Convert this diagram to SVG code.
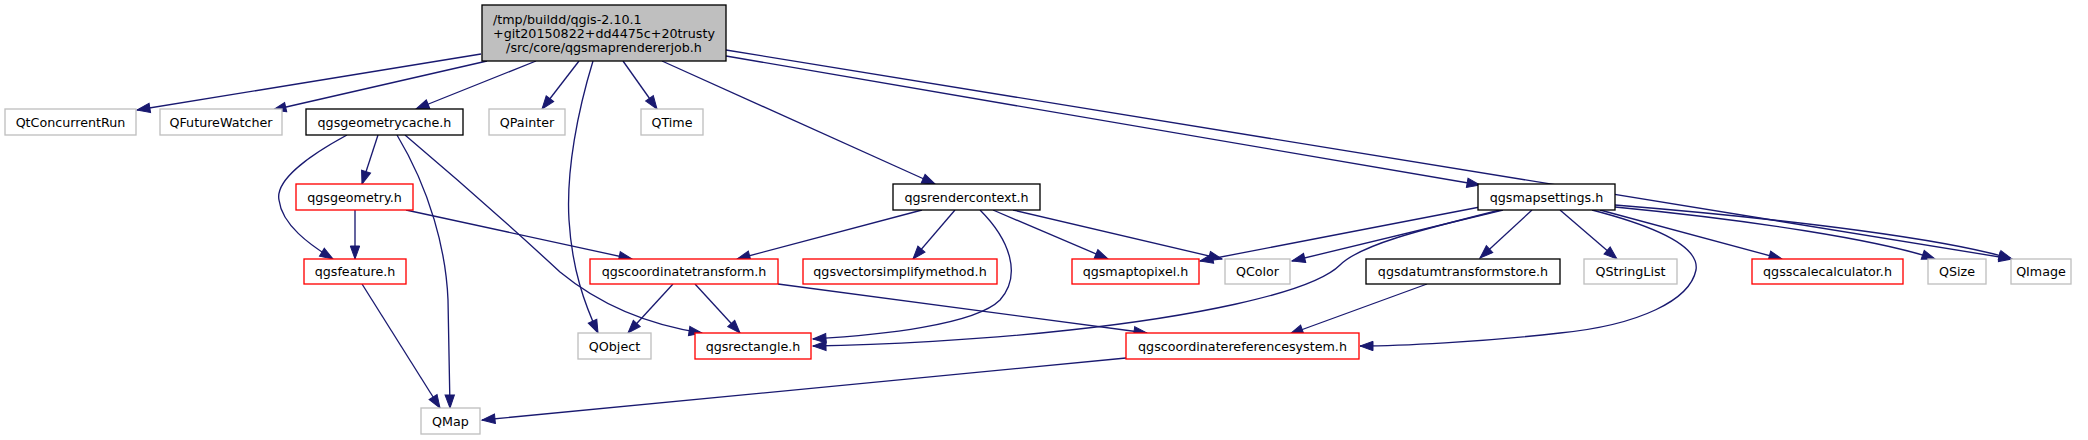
<svg xmlns="http://www.w3.org/2000/svg" width="2088" height="440" viewBox="0 0 2088 440">
<style>
rect{stroke-width:1.33}
.n rect{fill:#ffffff}
.b rect{stroke:#000000}
.r rect{stroke:#ff0000}
.g rect{stroke:#bfbfbf}
.root rect{fill:#bfbfbf;stroke:#000000}
text{font-family:"DejaVu Sans","Liberation Sans",sans-serif;font-size:12.7px;fill:#000000;text-anchor:middle}
#edges path{fill:none;stroke:#191970;stroke-width:1.33;marker-end:url(#ah)}
</style>
<defs>
<marker id="ah" markerUnits="userSpaceOnUse" markerWidth="16" markerHeight="12" refX="13" refY="5" orient="auto" overflow="visible">
<path d="M0,0.3 L13,5 L0,9.7 z" fill="#191970" stroke="#191970" stroke-width="1"/>
</marker>
</defs>
<rect width="2088" height="440" fill="#ffffff"/>
<g id="edges">
<path d="M481,54 L137,110"/>
<path d="M487,61 L273,110"/>
<path d="M536,61 L416,109"/>
<path d="M579,61 L542,109"/>
<path d="M593,61 C578,110 566,170 569,220 C572,270 585,305 598,333"/>
<path d="M623,61 L657,109"/>
<path d="M662,61 L935,184"/>
<path d="M726,56 L1480,185"/>
<path d="M726,50 L2012,259"/>
<path d="M347,135 C310,155 275,180 279,200 C282,225 310,245 333,259"/>
<path d="M378,135 L362,184"/>
<path d="M397,135 C430,190 446,250 448,300 L450,408"/>
<path d="M405,135 C470,190 520,235 560,272 C600,305 650,325 702,333"/>
<path d="M355,210 L355,259"/>
<path d="M406,210 L632,259"/>
<path d="M362,284 L440,408"/>
<path d="M922,210 L737,259"/>
<path d="M955,210 L913,259"/>
<path d="M980,210 C1010,240 1022,275 1000,300 C975,325 880,335 813,339"/>
<path d="M993,210 L1108,259"/>
<path d="M1013,210 L1222,259"/>
<path d="M1480,207 L1200,261"/>
<path d="M1503,210 L1292,261"/>
<path d="M1500,210 C1420,230 1360,245 1340,265 C1310,295 1180,318 1070,330 C980,340 880,345 813,346"/>
<path d="M1532,210 L1480,258"/>
<path d="M1560,210 L1617,259"/>
<path d="M1592,210 C1650,225 1700,245 1696,270 C1690,300 1640,325 1560,333 C1480,342 1400,346 1360,346"/>
<path d="M1600,210 L1782,259"/>
<path d="M1615,207 C1750,220 1880,240 1935,259"/>
<path d="M1615,205 C1800,220 1950,240 2012,259"/>
<path d="M1427,284 L1290,334"/>
<path d="M673,284 L628,333"/>
<path d="M695,284 L740,333"/>
<path d="M778,284 L1147,333"/>
<path d="M1126,358 L482,420"/>
</g>
<g id="root" class="root"><rect x="482" y="5" width="244" height="56"/>
<text x="493" y="23.5" style="text-anchor:start">/tmp/buildd/qgis-2.10.1</text>
<text x="604" y="37.5">+git20150822+dd4475c+20trusty</text>
<text x="604" y="51.5">/src/core/qgsmaprendererjob.h</text></g>
<g id="QtConcurrentRun" class="n g"><rect x="5" y="109" width="131" height="26"/><text x="70.5" y="126.5">QtConcurrentRun</text></g>
<g id="QFutureWatcher" class="n g"><rect x="160" y="109" width="122" height="26"/><text x="221" y="126.5">QFutureWatcher</text></g>
<g id="qgsgeometrycache" class="n b"><rect x="306" y="109" width="157" height="26"/><text x="384.5" y="126.5">qgsgeometrycache.h</text></g>
<g id="QPainter" class="n g"><rect x="489" y="109" width="76" height="26"/><text x="527" y="126.5">QPainter</text></g>
<g id="QTime" class="n g"><rect x="641" y="109" width="62" height="26"/><text x="672" y="126.5">QTime</text></g>
<g id="qgsgeometry" class="n r"><rect x="296" y="184" width="117" height="26"/><text x="354.5" y="201.5">qgsgeometry.h</text></g>
<g id="qgsrendercontext" class="n b"><rect x="893" y="184" width="147" height="26"/><text x="966.5" y="201.5">qgsrendercontext.h</text></g>
<g id="qgsmapsettings" class="n b"><rect x="1478" y="184" width="137" height="26"/><text x="1546.5" y="201.5">qgsmapsettings.h</text></g>
<g id="qgsfeature" class="n r"><rect x="304" y="259" width="102" height="25"/><text x="355" y="276">qgsfeature.h</text></g>
<g id="qgscoordinatetransform" class="n r"><rect x="590" y="259" width="188" height="25"/><text x="684" y="276">qgscoordinatetransform.h</text></g>
<g id="qgsvectorsimplifymethod" class="n r"><rect x="803" y="259" width="194" height="25"/><text x="900" y="276">qgsvectorsimplifymethod.h</text></g>
<g id="qgsmaptopixel" class="n r"><rect x="1072" y="259" width="127" height="25"/><text x="1135.5" y="276">qgsmaptopixel.h</text></g>
<g id="QColor" class="n g"><rect x="1225" y="259" width="65" height="25"/><text x="1257.5" y="276">QColor</text></g>
<g id="qgsdatumtransformstore" class="n b"><rect x="1366" y="259" width="194" height="25"/><text x="1463" y="276">qgsdatumtransformstore.h</text></g>
<g id="QStringList" class="n g"><rect x="1584" y="259" width="93" height="25"/><text x="1630.5" y="276">QStringList</text></g>
<g id="qgsscalecalculator" class="n r"><rect x="1752" y="259" width="151" height="25"/><text x="1827.5" y="276">qgsscalecalculator.h</text></g>
<g id="QSize" class="n g"><rect x="1928" y="259" width="58" height="25"/><text x="1957" y="276">QSize</text></g>
<g id="QImage" class="n g"><rect x="2011" y="259" width="60" height="25"/><text x="2041" y="276">QImage</text></g>
<g id="QObject" class="n g"><rect x="578" y="333" width="73" height="26"/><text x="614.5" y="350.5">QObject</text></g>
<g id="qgsrectangle" class="n r"><rect x="695" y="333" width="116" height="26"/><text x="753" y="350.5">qgsrectangle.h</text></g>
<g id="qgscoordinatereferencesystem" class="n r"><rect x="1126" y="333" width="233" height="26"/><text x="1242.5" y="350.5">qgscoordinatereferencesystem.h</text></g>
<g id="QMap" class="n g"><rect x="421" y="408" width="59" height="26"/><text x="450.5" y="425.5">QMap</text></g>
</svg>
